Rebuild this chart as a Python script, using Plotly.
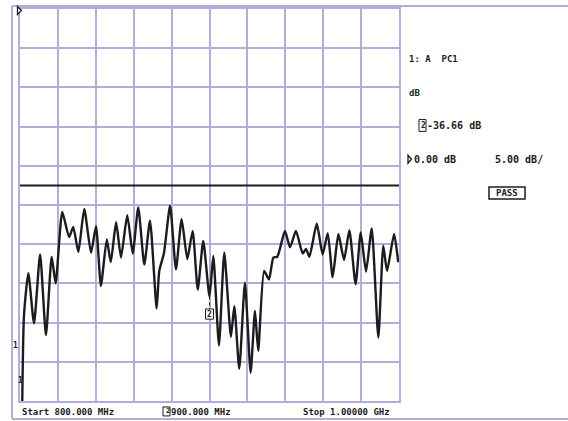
import plotly.graph_objects as go

# Sweep: 800 MHz .. 1 GHz, 0 dB reference at top, 5 dB/div
freq_mhz = [801.2, 802.1, 804.4, 807.4, 810.6, 813.7, 816.7, 818.8, 822.3, 825.9,
            828.1, 830.8, 833.9, 837.5, 840.1, 842.7, 845.8, 847.9, 850.7, 853.3,
            856.6, 859.5, 862.4, 865.6, 868.6, 872.1, 873.5, 876.0, 879.2, 882.3,
            885.3, 888.3, 891.1, 893.8, 896.7, 900.0, 902.0, 905.0, 907.8, 911.3,
            913.1, 915.7, 918.7, 921.7, 924.0, 925.7, 928.8, 931.4, 933.7, 935.8,
            939.8, 942.5, 945.6, 949.2, 950.9, 952.7, 956.6, 959.7, 962.4, 965.0,
            968.0, 971.0, 973.8, 977.1, 979.8, 982.6, 985.6, 989.1, 991.7, 993.7,
            997.4, 999.6]
mag_db = [-50.0, -39.1, -33.7, -40.1, -31.3, -41.6, -31.6, -35.0, -25.9, -29.1,
          -27.8, -31.0, -25.5, -31.1, -27.7, -35.3, -29.4, -32.3, -27.2, -31.7,
          -26.3, -31.2, -25.3, -32.6, -27.0, -38.2, -33.4, -31.1, -25.1, -33.2,
          -26.8, -31.9, -28.3, -35.8, -29.6, -36.66, -31.5, -42.9, -31.1, -41.8,
          -37.9, -45.9, -34.9, -46.4, -38.5, -43.6, -33.4, -34.5, -31.7, -31.6,
          -28.3, -30.4, -28.3, -31.2, -30.6, -31.6, -27.4, -31.3, -28.6, -34.2,
          -28.7, -32.0, -28.2, -35.1, -28.5, -33.5, -28.0, -41.9, -30.2, -33.4,
          -28.7, -32.3]

limit_freq = [800.0, 1000.0]
limit_db = [-22.5, -22.5]

marker_freq = 900.0
marker_db = -36.66

x_range = [800.0, 1000.0]
y_range = [-50.0, 0.0]

grid_col = "#b4addb"
ink = "#1c1c1c"
mono = "DejaVu Sans Mono"

W, H = 568, 421
L, T, R, B = 20, 7, 399, 401


def px(x):
    return (x - L) / (R - L)


def py(y):
    return (B - y) / (B - T)


fig = go.Figure()

fig.add_trace(go.Scatter(x=limit_freq, y=limit_db, mode="lines",
                         line=dict(color=ink, width=2), hoverinfo="skip"))
fig.add_trace(go.Scatter(x=freq_mhz, y=mag_db, mode="lines",
                         line=dict(color=ink, width=2.4, shape="spline", smoothing=0.55)))

# marker 2 drop line and flag
fig.add_shape(type="line", x0=marker_freq, x1=marker_freq, y0=marker_db, y1=marker_db - 1.6,
              line=dict(color=ink, width=1, dash="dot"))
fig.add_shape(type="rect", x0=marker_freq - 2.1, x1=marker_freq + 2.1,
              y0=marker_db - 2.9, y1=marker_db - 1.6, line=dict(color=ink, width=1),
              fillcolor="white")
fig.add_annotation(x=marker_freq, y=marker_db - 2.25, text="<b>2</b>", showarrow=False,
                   font=dict(family=mono, size=8, color=ink))

# outer frame
frame = dict(color=grid_col, width=2)
fig.add_shape(type="line", xref="paper", yref="paper", x0=px(12), x1=px(12),
              y0=py(4), y1=py(419), line=frame)
fig.add_shape(type="line", xref="paper", yref="paper", x0=px(12), x1=px(570),
              y0=py(4), y1=py(4), line=frame)
fig.add_shape(type="line", xref="paper", yref="paper", x0=px(12), x1=px(570),
              y0=py(419), y1=py(419), line=frame)


def label(x, y, text, size=9, anchor="left"):
    fig.add_annotation(xref="paper", yref="paper", x=px(x), y=py(y), text="<b>" + text + "</b>",
                       showarrow=False, xanchor=anchor, yanchor="middle",
                       font=dict(family=mono, size=size, color=ink))


def boxed(x0, y0, x1, y1, width=1):
    fig.add_shape(type="rect", xref="paper", yref="paper", x0=px(x0), x1=px(x1),
                  y0=py(y0), y1=py(y1), line=dict(color=ink, width=width))


def ref_arrow(x, y, w, h):
    # right-pointing outlined triangle: left edge at x, tip at x + w, centred on y
    path = "M {:.5f} {:.5f} L {:.5f} {:.5f} L {:.5f} {:.5f} Z".format(
        px(x), py(y - h / 2), px(x + w), py(y), px(x), py(y + h / 2))
    fig.add_shape(type="path", xref="paper", yref="paper", path=path,
                  line=dict(color=ink, width=1.3), fillcolor="white")


# footer
label(20, 412, "Start 800.000 MHz", 9)
boxed(163, 407, 170, 416)
label(163.5, 411.5, "2", 7)
label(169, 412, "900.000 MHz", 9)
label(301, 412, "Stop 1.00000 GHz", 9)

# side panel
label(407, 57, "1: A  PC1", 9)
label(407, 91, "dB", 9)
boxed(419, 118, 426, 130)
label(419, 124, "2", 8)
label(425, 124, "-36.66 dB", 10)
ref_arrow(408, 158, 3.5, 8)
label(412, 158, "0.00 dB", 10)
label(493, 158, "5.00 dB/", 10)
boxed(489, 186, 525, 198, 1.5)
label(507, 192, "PASS", 9, anchor="center")

# reference marker and channel ticks at the left edge
ref_arrow(17.5, 8.5, 4, 8)
label(11, 345, "1", 8)
label(16, 380, "1", 8)

axis_common = dict(showgrid=True, gridcolor=grid_col, gridwidth=2, zeroline=False,
                   showticklabels=False, ticks="", showline=True, linecolor=grid_col,
                   linewidth=2, mirror=True)
fig.update_xaxes(range=x_range, dtick=20, tick0=800, **axis_common)
fig.update_yaxes(range=y_range, dtick=5, tick0=-50, **axis_common)

fig.update_layout(width=W, height=H, margin=dict(l=L, r=W - R, t=T, b=H - B),
                  paper_bgcolor="white", plot_bgcolor="white", showlegend=False)

fig.write_html("out.html")
